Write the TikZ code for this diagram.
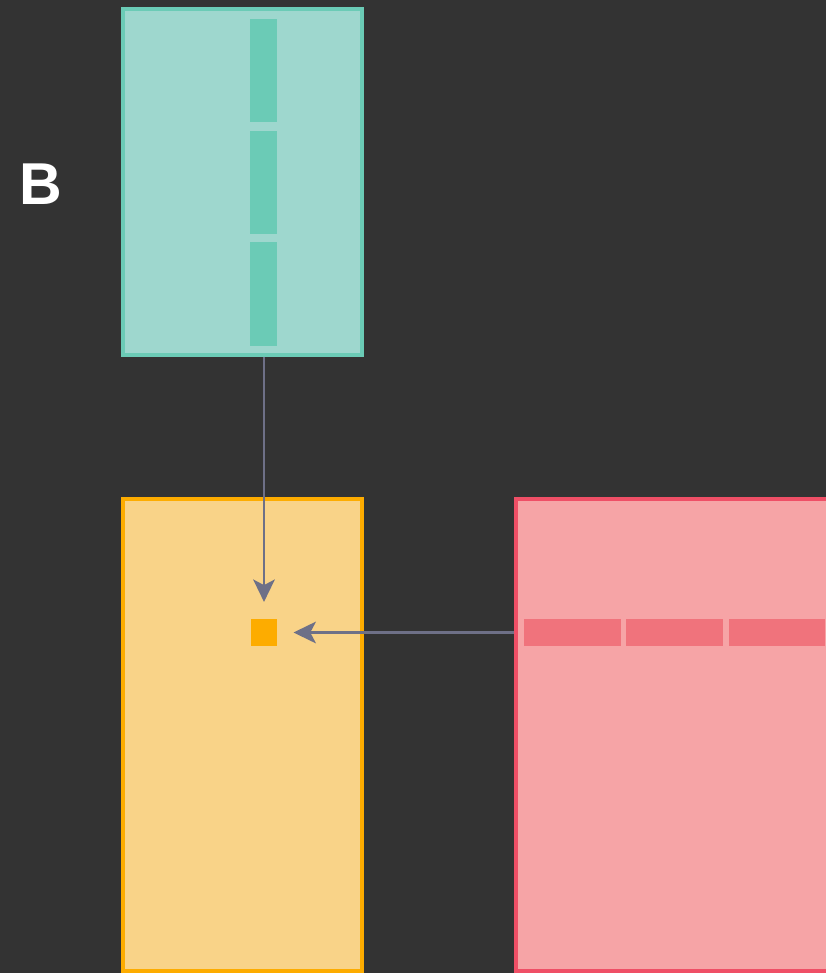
\documentclass[tikz,border=0pt]{standalone}
\usepackage{fontspec}
\setmainfont{Liberation Sans}
\usepackage{xcolor}
\definecolor{vizBack}{HTML}{333333}
\definecolor{vizTealFill}{HTML}{9ED7CE}
\definecolor{vizTeal}{HTML}{6BCBB6}
\definecolor{vizGoldFill}{HTML}{F9D388}
\definecolor{vizGold}{HTML}{FDAC00}
\definecolor{vizRoseFill}{HTML}{F6A4A6}
\definecolor{vizRose}{HTML}{EF4F66}
\definecolor{vizRoseBar}{HTML}{F0737C}
\definecolor{vizLink}{HTML}{6E7087}
\usetikzlibrary{arrows.meta}
\tikzset{
  panel/.style={rectangle, draw, line width=2.4pt, inner sep=0pt},
  cell/.style={rectangle, inner sep=0pt, draw=none},
  link/.style={vizLink, line width=1.8pt, -{Stealth[length=0.56cm, width=0.54cm, inset=0.14cm]}}
}

\begin{document}
\begin{tikzpicture}[x=0.025cm, y=-0.025cm]
  \clip (0,0) rectangle (826,973);
  \fill[vizBack] (0,0) rectangle (826,973);
  \node[text=white, font=\bfseries\fontsize{42pt}{42pt}\selectfont] (label) at (41,184) {B};
  \node[panel, draw=vizTeal, fill=vizTealFill, minimum width=5.975cm, minimum height=8.65cm] (tealBox) at (242.5,182) {};
  \node[cell, fill=vizTeal, minimum width=0.675cm, minimum height=2.575cm] (tealA) at (263.5,70.5) {};
  \node[cell, fill=vizTeal, minimum width=0.675cm, minimum height=2.575cm] (tealB) at (263.5,182.5) {};
  \node[cell, fill=vizTeal, minimum width=0.675cm, minimum height=2.6cm] (tealC) at (263.5,294) {};
  \node[panel, draw=vizGold, fill=vizGoldFill, minimum width=5.975cm, minimum height=11.8cm] (goldBox) at (242.5,735) {};
  \node[cell, fill=vizGold, minimum width=0.66cm, minimum height=0.675cm] (dot) at (264,632.5) {};
  \node[panel, draw=vizRose, fill=vizRoseFill, minimum width=12.1cm, minimum height=11.8cm] (roseBox) at (758,735) {};
  \node[cell, fill=vizRoseBar, minimum width=2.4cm, minimum height=0.675cm] (roseA) at (572.5,632.5) {};
  \node[cell, fill=vizRoseBar, minimum width=2.4cm, minimum height=0.675cm] (roseB) at (674.5,632.5) {};
  \node[cell, fill=vizRoseBar, minimum width=2.4cm, minimum height=0.675cm] (roseC) at (777,632.5) {};
  \draw[link, shorten >=0.42cm] (tealBox.south -| dot.center) -- (dot.north);
  \draw[link, shorten >=0.4cm] (roseBox.west |- dot.center) -- (dot.east);
\end{tikzpicture}
\end{document}
